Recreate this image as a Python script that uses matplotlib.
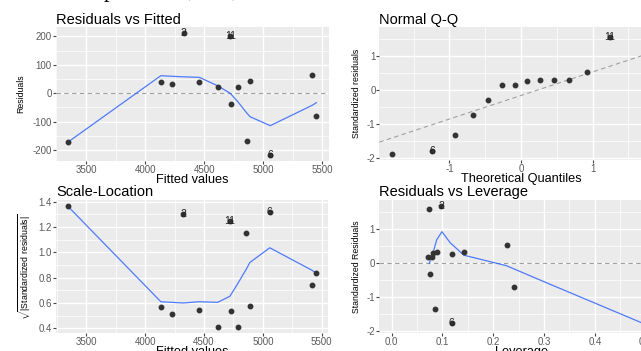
import matplotlib
matplotlib.use('Agg')
import matplotlib.pyplot as plt
from matplotlib.ticker import MultipleLocator, FormatStrFormatter

plt.rcParams['font.family'] = ['Liberation Sans', 'DejaVu Sans']
plt.rcParams['axes.unicode_minus'] = False
plt.rcParams['mathtext.fontset'] = 'custom'
plt.rcParams['mathtext.rm'] = 'Liberation Sans'

# --- data ---
# residuals vs fitted (one entry per observation)
fitted = [3347, 4133, 4225, 4325, 4460, 4616, 4720, 4726, 4785, 4861, 4890, 5059, 5415, 5449]
resid = [-172, 41, 33, 212, 39, 22, 200, -37, 22, -167, 42, -217, 64, -80]
sqrt_std = [1.368, 0.566, 0.513, 1.30, 0.548, 0.41, 1.25, 0.54, 0.41, 1.15, 0.573, 1.316, 0.74, 0.837]
obs_labels = {3: '2', 6: '11', 11: '6'}

# loess smoothers
rf_smooth_x = [3347, 4133, 4225, 4325, 4460, 4616, 4720, 4785, 4861, 4890, 5059, 5415, 5449]
rf_smooth_y = [-172, 62, 60, 58, 56, 26, 0, -30, -70, -83, -114, -42, -33]
sl_smooth_x = [3347, 4133, 4225, 4325, 4460, 4616, 4720, 4785, 4861, 4890, 5059, 5415, 5449]
sl_smooth_y = [1.36, 0.61, 0.605, 0.60, 0.61, 0.605, 0.653, 0.75, 0.87, 0.92, 1.036, 0.86, 0.84]

# normal Q-Q
theo_q = [-1.80, -1.24, -0.92, -0.67, -0.46, -0.27, -0.09, 0.09, 0.27, 0.46, 0.67, 0.92, 1.24, 1.80]
sample_q = [-1.88, -1.78, -1.33, -0.73, -0.30, 0.16, 0.16, 0.26, 0.29, 0.30, 0.30, 0.54, 1.54, 1.67]
qq_labels = {1: '6', 12: '11'}
qq_intercept = -0.16
qq_slope = 0.69

# residuals vs leverage
leverage = [0.074, 0.098, 0.072, 0.079, 0.081, 0.089, 0.075, 0.119, 0.142, 0.228, 0.241, 0.085, 0.118, 0.51]
lev_std = [1.59, 1.69, 0.18, 0.19, 0.31, 0.32, -0.30, 0.28, 0.32, 0.55, -0.71, -1.33, -1.75, -1.87]
lev_labels = {1: '2', 12: '6'}
lev_smooth_x = [0.074, 0.083, 0.0886, 0.099, 0.115, 0.142, 0.226, 0.292, 0.51]
lev_smooth_y = [0.0, 0.39, 0.69, 0.93, 0.61, 0.24, -0.07, -0.49, -1.86]

W, H = 641, 351
PT_COL = '#333333'
LINE_COL = '#3366FF'
REF_COL = '#A0A0A0'
TICK_COL = '#5A5A5A'

fig = plt.figure(figsize=(W / 100, H / 100), dpi=100)


def panel(l, t, r, b):
    return fig.add_axes([l / W, 1 - b / H, (r - l) / W, (b - t) / H])


def expand(lo, hi, f=0.05):
    span = hi - lo
    return lo - f * span, hi + f * span


def style(ax, xmaj, xmin, ymaj, ymin, xfmt=None, yfmt=None):
    ax.set_facecolor('#EBEBEB')
    for s in ax.spines.values():
        s.set_visible(False)
    ax.xaxis.set_major_locator(MultipleLocator(xmaj))
    ax.xaxis.set_minor_locator(MultipleLocator(xmin))
    ax.yaxis.set_major_locator(MultipleLocator(ymaj))
    ax.yaxis.set_minor_locator(MultipleLocator(ymin))
    if xfmt:
        ax.xaxis.set_major_formatter(FormatStrFormatter(xfmt))
    if yfmt:
        ax.yaxis.set_major_formatter(FormatStrFormatter(yfmt))
    ax.grid(True, which='major', color='white', lw=1.0)
    ax.grid(True, which='minor', color='white', lw=0.5)
    ax.set_axisbelow(True)
    ax.tick_params(which='major', length=2, width=0.8, color='#444444',
                   labelsize=7, labelcolor=TICK_COL, pad=0.8)
    ax.tick_params(which='minor', length=0)


def title(ax, txt):
    ax.set_title(txt, loc='left', fontsize=10.5, pad=2.5, color='black')


def ylab(ax, txt, pad=4):
    ax.set_ylabel(txt, fontsize=6.3, labelpad=pad)


def xlab(ax, txt):
    ax.set_xlabel(txt, fontsize=9.2, labelpad=-0.5)


def label_points(ax, xs, ys, labels):
    for i, t in labels.items():
        ax.text(xs[i], ys[i], t, fontsize=7.5, color='#222222', ha='center', va='center')


# Residuals vs Fitted
ax1 = panel(55.5, 27, 328.8, 161)
ax1.plot(fitted, resid, 'o', ms=3.2, color=PT_COL, zorder=3)
ax1.plot(rf_smooth_x, rf_smooth_y, color=LINE_COL, lw=0.9, alpha=0.85, zorder=2)
ax1.axhline(0, color=REF_COL, lw=0.8, ls=(0, (4, 3)), zorder=1)
label_points(ax1, fitted, resid, obs_labels)
ax1.set_xlim(expand(min(fitted), max(fitted)))
ax1.set_ylim(expand(min(resid), max(resid)))
style(ax1, 500, 250, 100, 50)
title(ax1, 'Residuals vs Fitted')
xlab(ax1, 'Fitted values')
ylab(ax1, 'Residuals', pad=5)

# Normal Q-Q
ax2 = panel(379.4, 27, 662.6, 160.2)
ax2.plot(theo_q, sample_q, 'o', ms=3.2, color=PT_COL, zorder=3)
ax2.axline((0, qq_intercept), slope=qq_slope, color=REF_COL, lw=0.8, ls=(0, (4, 3)), zorder=1)
label_points(ax2, theo_q, sample_q, qq_labels)
ax2.set_xlim(expand(min(theo_q), max(theo_q)))
ax2.set_ylim(expand(min(sample_q), max(sample_q)))
style(ax2, 1, 0.5, 1, 0.5)
title(ax2, 'Normal Q-Q')
xlab(ax2, 'Theoretical Quantiles')
ylab(ax2, 'Standardized residuals')

# Scale-Location
ax3 = panel(56, 199.7, 328, 333.1)
ax3.plot(fitted, sqrt_std, 'o', ms=3.2, color=PT_COL, zorder=3)
ax3.plot(sl_smooth_x, sl_smooth_y, color=LINE_COL, lw=0.9, alpha=0.85, zorder=2)
label_points(ax3, fitted, sqrt_std, obs_labels)
ax3.set_xlim(expand(min(fitted), max(fitted)))
ax3.set_ylim(expand(min(sqrt_std), max(sqrt_std)))
style(ax3, 500, 250, 0.2, 0.1, yfmt='%.1f')
title(ax3, 'Scale-Location')
xlab(ax3, 'Fitted values')
ax3.set_ylabel(r'$\sqrt{|\mathrm{Standardized\ residuals}|}$', fontsize=6.3, labelpad=4)

# Residuals vs Leverage
ax4 = panel(378.7, 199.8, 663.7, 333)
ax4.plot(leverage, lev_std, 'o', ms=3.2, color=PT_COL, zorder=3)
ax4.plot(lev_smooth_x, lev_smooth_y, color=LINE_COL, lw=0.9, alpha=0.85, zorder=2)
ax4.axhline(0, color=REF_COL, lw=0.8, ls=(0, (4, 3)), zorder=1)
label_points(ax4, leverage, lev_std, lev_labels)
ax4.set_xlim(expand(0, max(leverage)))
ax4.set_ylim(expand(min(lev_std), max(lev_std)))
style(ax4, 0.1, 0.05, 1, 0.5, xfmt='%.1f')
title(ax4, 'Residuals vs Leverage')
xlab(ax4, 'Leverage')
ylab(ax4, 'Standardized Residuals')

# clipped caption fragments at the very top of the screenshot
for x, t in [(104, 'p'), (183, '('), (231, ')')]:
    fig.text(x / W, 1 + 3.5 / H, t, fontsize=16, family='Liberation Serif', va='baseline')

fig.savefig('out.png', dpi=100)
